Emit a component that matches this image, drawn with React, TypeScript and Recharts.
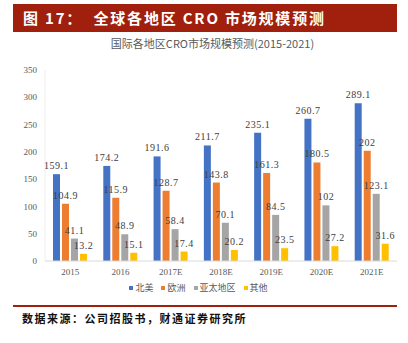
import * as React from "react";
import { BarChart, Bar, XAxis, YAxis, Legend, LabelList } from "recharts";

const years = ["2015", "2016", "2017E", "2018E", "2019E", "2020E", "2021E"];
const seriesNames = ["北美", "欧洲", "亚太地区", "其他"];
const northAmerica = [159.1, 174.2, 191.6, 211.7, 235.1, 260.7, 289.1];
const europe = [104.9, 115.9, 128.7, 143.8, 161.3, 180.5, 202];
const asiaPacific = [41.1, 48.9, 58.4, 70.1, 84.5, 102, 123.1];
const others = [13.2, 15.1, 17.4, 20.2, 23.5, 27.2, 31.6];
const yTicks = [0, 50, 100, 150, 200, 250, 300, 350];

const data = years.map((y, i) => ({
    name: y,
    na: northAmerica[i],
    eu: europe[i],
    ap: asiaPacific[i],
    ot: others[i],
}));

const serif = "'Liberation Serif', 'Noto Sans CJK SC', serif";
const cjk = "'Noto Sans CJK SC', sans-serif";
const labelStyle = { fontSize: 10, fill: "#404040", fontFamily: serif, letterSpacing: 0.5 };

// legend in series order, small square + label
const renderLegend = (props: any) => {
    const items = [...(props.payload || [])].sort(
        (a: any, b: any) => seriesNames.indexOf(a.value) - seriesNames.indexOf(b.value));
    return (
        <div style={{ display: "flex", justifyContent: "center", fontFamily: cjk, fontSize: 9, color: "#595959" }}>
            {items.map((it: any) => (
                <span key={it.value} style={{ display: "flex", alignItems: "center", margin: "0 4px" }}>
                    <span style={{ width: 4, height: 4, background: it.color, marginRight: 2 }} />
                    {it.value}
                </span>
            ))}
        </div>
    );
};

export default function App() {
    return (
        <div style={{ position: "absolute", left: 0, top: 0, width: 408, height: 343, background: "#fff" }}>
            <div style={{
                position: "absolute", left: 13, top: 4, width: 384, height: 28, background: "#A0200D",
                color: "#fff", fontFamily: cjk, fontWeight: 700, fontSize: 15, lineHeight: "28px",
                paddingLeft: 10, boxSizing: "border-box", letterSpacing: 1.8, whiteSpace: "pre",
            }}>
                {"图 17：  全球各地区 CRO 市场规模预测"}
            </div>
            <div style={{
                position: "absolute", left: 0, top: 35, width: 425, textAlign: "center",
                fontFamily: cjk, fontSize: 11, color: "#595959",
            }}>
                国际各地区CRO市场规模预测(2015-2021)
            </div>
            <div style={{ position: "absolute", left: 0, top: 0 }}>
                <BarChart width={408} height={296} data={data}
                    margin={{ top: 70, right: 11, left: 0, bottom: 0 }}
                    barCategoryGap={8} barGap={2}>
                    <XAxis dataKey="name" tickLine={false} axisLine={{ stroke: "#d9d9d9" }}
                        tick={{ fontSize: 9, fill: "#595959", fontFamily: serif }} height={20} />
                    <YAxis domain={[0, 350]} ticks={yTicks} width={45} tickLine={false}
                        axisLine={{ stroke: "#eeeeee" }}
                        tick={{ fontSize: 9, fill: "#595959", fontFamily: serif }} />
                    <Legend verticalAlign="bottom" height={15} content={renderLegend} />
                    <Bar dataKey="na" name={seriesNames[0]} fill="#4472C4" barSize={7} isAnimationActive={false}>
                        <LabelList dataKey="na" position="top" style={labelStyle} />
                    </Bar>
                    <Bar dataKey="eu" name={seriesNames[1]} fill="#ED7D31" barSize={7} isAnimationActive={false}>
                        <LabelList dataKey="eu" position="top" style={labelStyle} />
                    </Bar>
                    <Bar dataKey="ap" name={seriesNames[2]} fill="#A5A5A5" barSize={7} isAnimationActive={false}>
                        <LabelList dataKey="ap" position="top" style={labelStyle} />
                    </Bar>
                    <Bar dataKey="ot" name={seriesNames[3]} fill="#FFC000" barSize={7} isAnimationActive={false}>
                        <LabelList dataKey="ot" position="top" style={labelStyle} />
                    </Bar>
                </BarChart>
            </div>
            <div style={{ position: "absolute", left: 13, top: 305, width: 384, height: 1.5, background: "#A0200E" }} />
            <div style={{
                position: "absolute", left: 22, top: 310, fontFamily: cjk, fontWeight: 700,
                fontSize: 11, color: "#111", letterSpacing: 1.5,
            }}>
                数据来源：公司招股书，财通证券研究所
            </div>
        </div>
    );
}
